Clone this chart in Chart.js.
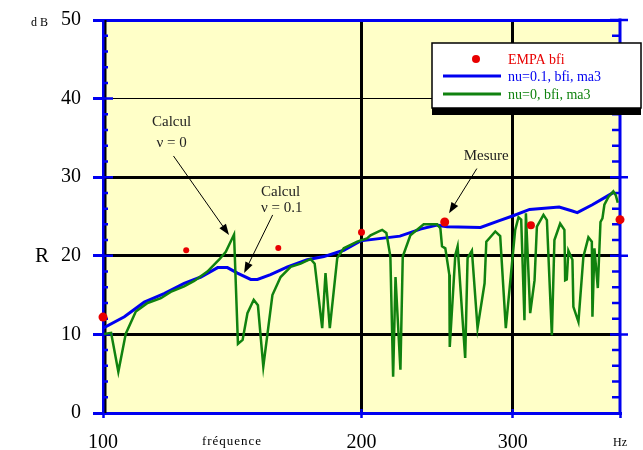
<!DOCTYPE html>
<html>
<head>
<meta charset="utf-8">
<script src="https://cdn.jsdelivr.net/npm/chart.js@4.4.0/dist/chart.umd.min.js"></script>
<style>
  body { margin: 0; background: #fff; }
  #wrap { width: 643px; height: 450px; }
</style>
</head>
<body>
<div id="wrap"><canvas id="chart" width="643" height="450"></canvas></div>
<script>
// EMPA measurement, third octave bands
const empaFreq = [100, 125, 160, 200, 250, 315, 400];
const empaR = [12.2, 20.7, 21.0, 23.0, 24.3, 23.9, 24.6];

// calcul nu = 0.1
const nu01Freq = [100, 105.9, 111.7, 117.8, 124.3, 130.0, 136.0, 139.6, 143.4, 148.6, 151.3, 156.7,
  164.0, 172.9, 180.8, 190.7, 199.5, 221.7, 234.2, 244.9, 251.6, 275.2, 290.0, 300.4, 313.9,
  339.8, 352.0, 356.7, 371.4, 385.2, 392.3];
const nu01R = [10.8, 12.25, 14.1, 15.2, 16.5, 17.3, 18.5, 18.5, 17.8, 17.0, 17.0, 17.6,
  18.6, 19.5, 19.9, 20.7, 21.9, 22.5, 23.4, 23.9, 23.7, 23.6, 24.5, 25.1, 25.9,
  26.2, 25.7, 25.5, 26.5, 27.5, 28.0];

// calcul nu = 0
const nu0Freq = [100.3, 102.2, 104.2, 106.3, 109.2, 112.7, 116.8, 119.9, 124.3, 127.7, 132.3, 136.5,
  139.0, 142.1, 143.6, 145.4, 147.3, 149.8, 151.5, 153.7, 157.5, 161.0, 165.4, 169.9, 174.5,
  176.4, 180.0, 181.6, 183.7, 187.4, 190.7, 197.7, 203.0, 204.9, 209.5, 211.4, 213.8, 216.1,
  217.7, 219.1, 222.0, 223.4, 228.0, 236.3, 244.9, 247.1, 248.2, 250.4, 253.1, 253.4, 257.2,
  258.8, 264.1, 265.8, 268.9, 273.0, 278.2, 279.5, 286.3, 290.1, 294.5, 302.0, 304.7, 306.9,
  309.6, 310.8, 314.4, 318.1, 320.1, 325.8, 328.8, 333.2, 335.5, 340.7, 344.6, 345.3, 346.8,
  348.3, 352.1, 353.0, 357.8, 362.6, 367.5, 370.9, 371.5, 373.5, 376.9, 379.6, 381.6, 383.6,
  387.8, 392.9, 395.5, 397.6];
const nu0R = [10.05, 10.2, 5.25, 10.1, 12.9, 14.0, 14.6, 15.4, 16.1, 16.8, 18.0, 19.5,
  20.5, 22.7, 8.8, 9.3, 12.7, 14.4, 13.7, 5.9, 15.0, 17.3, 18.6, 19.0, 19.6,
  19.0, 10.8, 17.8, 10.8, 19.7, 20.95, 21.8, 22.2, 22.6, 23.1, 23.3, 22.9, 19.9,
  4.6, 17.3, 5.5, 19.9, 22.6, 24.0, 24.0, 23.5, 21.2, 20.95, 17.6, 8.4, 20.1,
  21.2, 7.0, 19.7, 20.65, 10.8, 16.5, 21.8, 23.1, 22.5, 10.8, 23.3, 24.9, 24.6,
  11.8, 25.4, 12.7, 16.9, 23.7, 25.2, 24.55, 9.9, 22.0, 24.1, 23.3, 16.9, 17.0,
  20.65, 19.5, 13.5, 11.6, 19.9, 22.35, 21.8, 12.25, 20.95, 15.9, 24.3, 24.75, 26.5,
  27.5, 28.2, 27.7, 26.75];

const xTicks = [100, 200, 300, 400];
const xTickLabels = ['100', '200', '300', 'Hz'];
const yTicks = [0, 10, 20, 30, 40, 50];

const serif = "'Liberation Serif', 'Times New Roman', serif";
const blue = '#0000f0';
const green = '#10820f';
const red = '#e80000';

const pts = (xs, ys) => xs.map((x, i) => ({ x: x, y: ys[i] }));

// annotations: text at [freq, dB], arrows from/to [freq, dB]
const notes = [
  { text: [['Calcul', 120.2, 37.0], ['ν = 0', 120.2, 34.35]], from: [120.8, 32.7], to: [140.2, 22.65] },
  { text: [['Calcul', 161.0, 28.1], ['ν = 0.1', 161.5, 26.1]], from: [157.6, 25.2], to: [146.0, 17.8] },
  { text: [['Mesure', 279.4, 32.7]], from: [272.5, 31.1], to: [252.9, 25.4] }
];

function arrow(ctx, x1, y1, x2, y2) {
  const a = Math.atan2(y2 - y1, x2 - x1);
  const len = 11, half = 4;
  const bx = x2 - Math.cos(a) * len, by = y2 - Math.sin(a) * len;
  ctx.beginPath();
  ctx.moveTo(x1, y1);
  ctx.lineTo(bx, by);
  ctx.stroke();
  ctx.beginPath();
  ctx.moveTo(x2, y2);
  ctx.lineTo(bx + half * Math.sin(a), by - half * Math.cos(a));
  ctx.lineTo(bx - half * Math.sin(a), by + half * Math.cos(a));
  ctx.closePath();
  ctx.fill();
}

const decor = {
  id: 'decor',
  beforeDraw(chart) {
    const { ctx, chartArea: a } = chart;
    ctx.save();
    ctx.fillStyle = '#fff';
    ctx.fillRect(0, 0, chart.width, chart.height);
    ctx.fillStyle = '#ffffc8';
    ctx.fillRect(a.left, a.top, a.right - a.left, a.bottom - a.top);
    ctx.restore();
  },
  beforeDatasetsDraw(chart) {
    const { ctx, chartArea: a } = chart;
    const y = chart.scales.y, x = chart.scales.x;
    ctx.save();
    // black line along the left axis
    ctx.strokeStyle = '#000';
    ctx.lineWidth = 2;
    ctx.beginPath();
    ctx.moveTo(a.left + 2.5, a.top);
    ctx.lineTo(a.left + 2.5, a.bottom);
    ctx.stroke();
    // right axis
    ctx.strokeStyle = blue;
    ctx.lineWidth = 3;
    ctx.beginPath();
    ctx.moveTo(a.right, a.top - 1.5);
    ctx.lineTo(a.right, a.bottom + 1.5);
    ctx.stroke();
    ctx.lineWidth = 2.5;
    for (let v = 2; v < 50; v += 2) {
      const py = y.getPixelForValue(v);
      const major = v % 10 === 0;
      ctx.beginPath();
      ctx.moveTo(a.left, py);
      ctx.lineTo(a.left + (major ? 10 : 5), py);
      ctx.moveTo(a.right - (major ? 10 : 8), py);
      ctx.lineTo(a.right + (major ? 8 : 0), py);
      ctx.stroke();
    }
    ctx.beginPath();
    ctx.moveTo(a.right - 10, a.top);
    ctx.lineTo(a.right + 8, a.top);
    ctx.stroke();
    [200, 300].forEach(v => {
      const px = x.getPixelForValue(v);
      ctx.beginPath();
      ctx.moveTo(px, a.bottom - 4);
      ctx.lineTo(px, a.bottom);
      ctx.stroke();
    });
    ctx.restore();
  },
  afterDatasetsDraw(chart) {
    const { ctx } = chart;
    const x = chart.scales.x, y = chart.scales.y;
    ctx.save();
    // annotations
    ctx.fillStyle = '#222';
    ctx.strokeStyle = '#000';
    ctx.lineWidth = 1;
    ctx.font = '15px ' + serif;
    ctx.textAlign = 'center';
    ctx.textBaseline = 'middle';
    notes.forEach(n => {
      n.text.forEach(t => ctx.fillText(t[0], x.getPixelForValue(t[1]), y.getPixelForValue(t[2])));
      ctx.fillStyle = '#000';
      arrow(ctx, x.getPixelForValue(n.from[0]), y.getPixelForValue(n.from[1]),
        x.getPixelForValue(n.to[0]), y.getPixelForValue(n.to[1]));
      ctx.fillStyle = '#222';
    });

    // legend box
    const lx = 432, ly = 43, lw = 209, lh = 65;
    ctx.fillStyle = '#000';
    ctx.fillRect(lx, ly + 7, lw, lh);
    ctx.fillStyle = '#fff';
    ctx.fillRect(lx, ly, lw, lh);
    ctx.strokeStyle = '#000';
    ctx.lineWidth = 1.5;
    ctx.strokeRect(lx, ly, lw, lh);
    const rows = [59, 76, 94];
    const cols = [red, blue, green];
    ctx.font = '14px ' + serif;
    ctx.textAlign = 'left';
    chart.data.datasets.forEach((ds, i) => {
      if (i === 0) {
        ctx.fillStyle = red;
        ctx.beginPath();
        ctx.arc(476, rows[i], 4, 0, Math.PI * 2);
        ctx.fill();
      } else {
        ctx.strokeStyle = cols[i];
        ctx.lineWidth = 3;
        ctx.beginPath();
        ctx.moveTo(443, rows[i]);
        ctx.lineTo(501, rows[i]);
        ctx.stroke();
      }
      ctx.fillStyle = cols[i];
      ctx.fillText(ds.label, 508, rows[i] + 1);
    });
    ctx.restore();
  },
  afterDraw(chart) {
    const { ctx } = chart;
    ctx.save();
    ctx.fillStyle = '#000';
    ctx.textBaseline = 'alphabetic';
    ctx.font = '12px ' + serif;
    ctx.letterSpacing = '3px';
    ctx.fillText('dB', 31, 26);
    ctx.letterSpacing = '1px';
    ctx.font = '13px ' + serif;
    ctx.textAlign = 'center';
    ctx.fillText('fréquence', 232, 445);
    ctx.letterSpacing = '0px';
    ctx.font = '21px ' + serif;
    ctx.fillText('R', 42, 262);
    ctx.restore();
  }
};

new Chart(document.getElementById('chart'), {
  type: 'line',
  data: {
    datasets: [
      {
        label: 'EMPA bfi',
        data: pts(empaFreq, empaR),
        showLine: false,
        pointRadius: [4.5, 3, 3, 3.5, 4.5, 4, 4.5],
        pointBackgroundColor: red,
        pointBorderColor: red,
        pointBorderWidth: 0,
        clip: false,
        order: 0
      },
      {
        label: 'nu=0.1, bfi, ma3',
        data: pts(nu01Freq, nu01R),
        borderColor: blue,
        borderWidth: 3,
        pointRadius: 0,
        tension: 0,
        order: 2
      },
      {
        label: 'nu=0, bfi, ma3',
        data: pts(nu0Freq, nu0R),
        borderColor: green,
        borderWidth: 2.5,
        pointRadius: 0,
        tension: 0,
        order: 1
      }
    ]
  },
  options: {
    responsive: false,
    animation: false,
    layout: { padding: { top: 20, right: 23, left: 0, bottom: 0 } },
    plugins: { legend: { display: false }, tooltip: { enabled: false } },
    scales: {
      x: {
        type: 'logarithmic',
        min: 100,
        max: 400,
        afterBuildTicks: s => { s.ticks = xTicks.map(v => ({ value: v })); },
        afterFit: s => { s.height = 37; },
        ticks: {
          padding: 13,
          color: '#000',
          autoSkip: false,
          maxRotation: 0,
          callback: (v, i) => xTickLabels[i],
          font: c => (c.tick && c.tick.value === 400)
            ? { family: serif, size: 12, lineHeight: 2 }
            : { family: serif, size: 20, lineHeight: 1.2 }
        },
        grid: {
          color: c => (c.tick && (c.tick.value === 200 || c.tick.value === 300)) ? '#000' : 'rgba(0,0,0,0)',
          lineWidth: 3,
          tickColor: blue,
          tickLength: 5,
          tickWidth: 2.5
        },
        border: { color: blue, width: 3 }
      },
      y: {
        min: 0,
        max: 50,
        afterBuildTicks: s => { s.ticks = yTicks.map(v => ({ value: v })); },
        afterFit: s => { s.width = 103; s.paddingTop = 0; s.paddingBottom = 0; },
        ticks: { padding: 12, color: '#000', font: { family: serif, size: 20 } },
        grid: {
          color: c => {
            const v = c.tick ? c.tick.value : -1;
            if (v === 50) return blue;
            if (v === 0) return 'rgba(0,0,0,0)';
            return '#000';
          },
          lineWidth: c => (c.tick && c.tick.value === 40) ? 1 : 3,
          tickColor: blue,
          tickLength: 10,
          tickWidth: 3
        },
        border: { color: blue, width: 3 }
      }
    }
  },
  plugins: [decor]
});
</script>
</body>
</html>
